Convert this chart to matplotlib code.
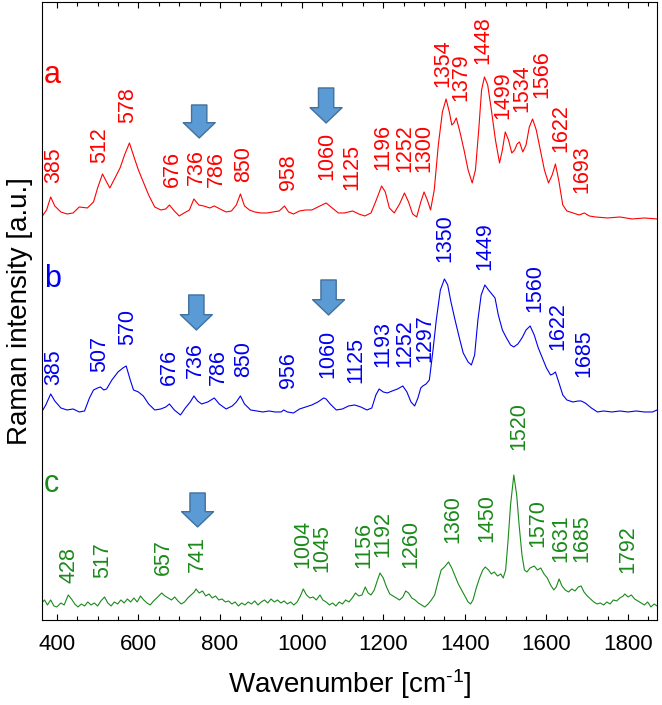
import matplotlib.pyplot as plt
from matplotlib.ticker import MultipleLocator

plt.rcParams['font.family'] = ['Liberation Sans', 'DejaVu Sans']
plt.rcParams['mathtext.fontset'] = 'custom'
plt.rcParams['mathtext.rm'] = 'Liberation Sans'
plt.rcParams['mathtext.default'] = 'regular'

# spectrum a (red) - wavenumber / intensity (arbitrary units, offset)
wn_a = [363, 375, 385, 395, 410, 425, 440, 455, 475, 490, 500, 512, 522, 530, 540, 555, 566, 578,
        590, 600, 610, 625, 640, 655, 667, 676, 688, 700, 712, 725, 736, 748, 760, 775, 786, 800,
        815, 828, 840, 850, 860, 872, 885, 900, 915, 930, 945, 958, 968, 980, 995, 1010, 1025,
        1040, 1060, 1075, 1090, 1105, 1115, 1125, 1140, 1155, 1170, 1183, 1196, 1205, 1215, 1227,
        1240, 1252, 1262, 1272, 1282, 1292, 1300, 1308, 1316, 1325, 1335, 1345, 1354, 1362, 1368,
        1373, 1379, 1388, 1398, 1408, 1418, 1426, 1434, 1441, 1448, 1456, 1465, 1475, 1485, 1492,
        1499, 1507, 1515, 1522, 1528, 1534, 1542, 1550, 1558, 1566, 1575, 1585, 1595, 1605, 1614,
        1622, 1630, 1640, 1650, 1665, 1680, 1693, 1705, 1720, 1750, 1780, 1810, 1840, 1871]
int_a = [403, 410, 423, 414, 408, 406, 407, 413, 412, 418, 432, 446, 438, 432, 440, 452, 465, 477,
         462, 450, 440, 425, 413, 410, 411, 415, 409, 404, 407, 410, 421, 415, 414, 412, 414, 411,
         408, 409, 415, 426, 414, 410, 408, 407, 407, 408, 409, 414, 408, 406, 409, 410, 410,
         413, 417, 412, 407, 407, 408, 409, 406, 404, 407, 420, 434, 428, 412, 407,
         416, 427, 418, 406, 403, 418, 428, 420, 410, 430, 475, 508, 521, 508, 495,
         497, 502, 488, 470, 450, 437, 450, 490, 530, 543, 535, 510, 480, 457, 470,
         488, 480, 467, 470, 476, 478, 468, 475, 493, 501, 490, 470, 450, 437, 445,
         456, 440, 415, 409, 407, 405, 407, 404, 403, 402, 403, 401, 402, 401]

# spectrum b (blue)
wn_b = [363, 373, 385, 395, 410, 425, 440, 455, 468, 480, 490, 500, 507, 515, 522, 535, 550, 562,
        570, 580, 588, 600, 612, 625, 640, 655, 667, 676, 688, 703, 715, 727, 736, 745, 755, 770,
        786, 798, 815, 830, 840, 850, 860, 875, 890, 905, 920, 935, 950, 956, 965, 980, 995, 1010,
        1025, 1040, 1054, 1060, 1070, 1085, 1100, 1115, 1130, 1145, 1160, 1172, 1182, 1190, 1200,
        1210, 1222, 1235, 1248, 1258, 1268, 1277, 1285, 1292, 1297, 1305, 1313, 1322, 1330, 1340,
        1350, 1358, 1366, 1376, 1386, 1396, 1408, 1416, 1424, 1432, 1440, 1449, 1458, 1466, 1474,
        1482, 1492, 1502, 1512, 1520, 1530, 1540, 1550, 1560, 1570, 1580, 1590, 1600, 1610, 1616,
        1622, 1630, 1640, 1650, 1665, 1678, 1685, 1695, 1710, 1725, 1740, 1760, 1780, 1800, 1820,
        1840, 1860, 1871]
int_b = [208, 215, 226, 219, 212, 210, 211, 208, 209, 222, 230, 232, 233, 230, 231, 240, 248, 252,
         254, 240, 230, 228, 224, 216, 210, 211, 213, 216, 210, 205, 212, 218, 224, 219, 216, 218,
         222, 216, 211, 214, 218, 224, 216, 210, 209, 208, 209, 208, 208, 210, 208, 207, 211, 213,
         215, 218, 222, 221, 216, 210, 211, 214, 215, 213, 210, 212, 225, 231, 228,
         227, 229, 231, 234, 228, 218, 214, 222, 232, 234, 236, 240, 270, 300, 330,
         341, 335, 318, 300, 283, 267, 258, 255, 265, 300, 325, 335, 330, 326, 322,
         305, 290, 282, 275, 273, 276, 282, 290, 294, 285, 272, 262, 252, 245, 246,
         248, 238, 225, 220, 218, 219, 219, 217, 212, 208, 209, 208, 209, 208, 209,
         208, 208, 210]

# spectrum c (green)
wn_c = [363, 370, 377, 385, 393, 400, 410, 418, 428, 436, 444, 452, 460, 468, 476, 484, 492, 500,
        508, 517, 525, 533, 541, 549, 557, 565, 573, 581, 589, 597, 605, 613, 621, 629, 637, 645,
        657, 665, 673, 681, 689, 697, 705, 713, 721, 729, 737, 741, 749, 757, 765, 773, 781, 789,
        797, 805, 813, 821, 829, 837, 845, 853, 861, 869, 877, 885, 893, 901, 909, 917, 925, 933,
        941, 949, 957, 965, 973, 981, 989, 997, 1004, 1012, 1020, 1028, 1036, 1045, 1052, 1060,
        1068, 1076, 1084, 1092, 1100, 1108, 1116, 1124, 1132, 1140, 1148, 1156, 1163, 1170, 1178,
        1186, 1192, 1200, 1208, 1216, 1224, 1232, 1240, 1248, 1255, 1262, 1270, 1278, 1286, 1294,
        1302, 1310, 1318, 1326, 1334, 1342, 1350, 1360, 1368, 1376, 1384, 1392, 1400, 1408, 1414,
        1420, 1428, 1436, 1444, 1450, 1458, 1465, 1472, 1480, 1488, 1494, 1500, 1506, 1512, 1520,
        1527, 1533, 1540, 1546, 1552, 1560, 1570, 1578, 1586, 1594, 1602, 1610, 1618, 1624, 1631,
        1638, 1646, 1654, 1662, 1670, 1678, 1685, 1692, 1700, 1708, 1716, 1724, 1732, 1740, 1748,
        1756, 1764, 1772, 1780, 1788, 1792, 1800, 1808, 1816, 1824, 1832, 1840, 1848, 1856, 1864,
        1871]
int_c = [17, 20, 15, 20, 14, 13, 17, 15, 25, 21, 16, 13, 16, 14, 18, 15, 17, 14,
         19, 23, 17, 14, 18, 16, 20, 17, 21, 18, 22, 18, 24, 20, 17, 15, 19, 22,
         27, 24, 22, 20, 23, 19, 16, 18, 22, 25, 28, 31, 27, 29, 24, 26, 22, 24,
         20, 21, 18, 19, 16, 18, 14, 17, 15, 18, 16, 19, 15, 18, 20, 17, 21, 18,
         20, 17, 19, 16, 18, 15, 18, 24, 31, 25, 22, 23, 20, 25, 20, 18,
         15, 17, 14, 18, 16, 20, 18, 22, 27, 24, 25, 33, 27, 25, 30,
         40, 47, 42, 33, 26, 24, 22, 20, 23, 29, 27, 22, 20, 17, 15,
         13, 16, 20, 25, 38, 50, 53, 58, 52, 44, 36, 30, 24, 18, 16,
         20, 32, 42, 50, 53, 50, 46, 48, 44, 46, 42, 50, 80, 115, 145,
         125, 95, 65, 50, 48, 52, 54, 50, 52, 46, 42, 35, 30, 33, 41,
         34, 30, 28, 31, 29, 33, 34, 28, 24, 21, 18, 16, 17, 15, 18,
         16, 20, 19, 22, 24, 26, 23, 25, 21, 19, 17, 15, 18, 13, 16,
         14]

# peak labels: text, x position, bottom of text
labels_a = ['385', '512', '578', '676', '736', '786', '850', '958', '1060', '1125', '1196', '1252',
            '1300', '1354', '1379', '1448', '1499', '1534', '1566', '1622', '1693']
lab_x_a = [393, 506, 574, 683, 741, 790, 858, 968, 1061, 1122, 1199, 1252,
           1299, 1345, 1391, 1443, 1492, 1540, 1590, 1636, 1686]
lab_y_a = [437, 457, 497, 433, 435, 433, 438, 430, 440, 430, 450, 448,
           448, 533, 519, 556, 501, 508, 522, 468, 427]

labels_b = ['385', '507', '570', '676', '736', '786', '850', '956', '1060', '1125', '1193', '1252',
            '1297', '1350', '1449', '1560', '1622', '1685']
lab_x_b = [393, 506, 574, 677, 739, 796, 858, 967, 1065, 1133, 1200, 1252,
           1303, 1350, 1448, 1572, 1629, 1691]
lab_y_b = [235, 248, 275, 235, 242, 235, 243, 232, 242, 237, 253, 253,
           258, 358, 350, 308, 270, 243]

labels_c = ['428', '517', '657', '741', '1004', '1045', '1156', '1192', '1260', '1360', '1450',
            '1520', '1570', '1631', '1685', '1792']
lab_x_c = [429, 512, 662, 745, 1003, 1050, 1153, 1200, 1267, 1371, 1454,
           1532, 1578, 1635, 1686, 1800]
lab_y_c = [37, 42, 45, 48, 52, 48, 52, 63, 52, 77, 78,
           170, 73, 58, 58, 47]

# marker arrows: x, top, tip
arrows = [(749, 515, 482), (1060, 532, 497),
          (742, 325, 290), (1066, 340, 305),
          (745, 127, 93)]

RED = '#ff0000'
BLUE = '#0000ee'
GREEN = '#1a8a1a'


def draw_labels(ax, texts, xs, ys, color):
    for t, x, y in zip(texts, xs, ys):
        ax.text(x, y, t, rotation=90, ha='center', va='bottom',
                color=color, fontsize=15.5)


def plot_spectra():
    fig = plt.figure(figsize=(6.62, 7.05), dpi=100)
    ax = fig.add_axes([0.063, 0.1206, 0.9295, 0.8766])

    ax.plot(wn_a, int_a, color=RED, lw=0.8)
    ax.plot(wn_b, int_b, color=BLUE, lw=0.8)
    ax.plot(wn_c, int_c, color=GREEN, lw=0.8)

    draw_labels(ax, labels_a, lab_x_a, lab_y_a, RED)
    draw_labels(ax, labels_b, lab_x_b, lab_y_b, BLUE)
    draw_labels(ax, labels_c, lab_x_c, lab_y_c, GREEN)

    ax.text(369, 537, 'a', color=RED, fontsize=22, ha='left', va='baseline')
    ax.text(369, 333, 'b', color=BLUE, fontsize=22, ha='left', va='baseline')
    ax.text(369, 128, 'c', color=GREEN, fontsize=22, ha='left', va='baseline')

    for x, top, tip in arrows:
        ax.annotate('', xy=(x, tip), xytext=(x, top),
                    arrowprops=dict(arrowstyle='simple,head_length=1.1,head_width=2.3,tail_width=1.1',
                                    fc='#5b9bd5', ec='#41719c', lw=1,
                                    mutation_scale=10, shrinkA=0, shrinkB=0))

    ax.set_xlim(363, 1871)
    ax.set_ylim(0, 618)
    ax.xaxis.set_major_locator(MultipleLocator(200))
    ax.xaxis.set_minor_locator(MultipleLocator(50))
    ax.tick_params(axis='x', which='both', direction='in', top=True, bottom=True,
                   labelsize=16, width=0.8, pad=10)
    ax.tick_params(axis='x', which='major', length=4.5)
    ax.tick_params(axis='x', which='minor', length=3)
    ax.tick_params(axis='y', left=False, right=False, labelleft=False)
    for s in ax.spines.values():
        s.set_linewidth(0.8)

    ax.set_xlabel(r'Wavenumber [cm$^{\text{-1}}$]', fontsize=20, labelpad=9)
    ax.set_ylabel('Raman intensity [a.u.]', fontsize=20, labelpad=6)

    fig.savefig('out.png', dpi=100)


if __name__ == "__main__":
    plot_spectra()
